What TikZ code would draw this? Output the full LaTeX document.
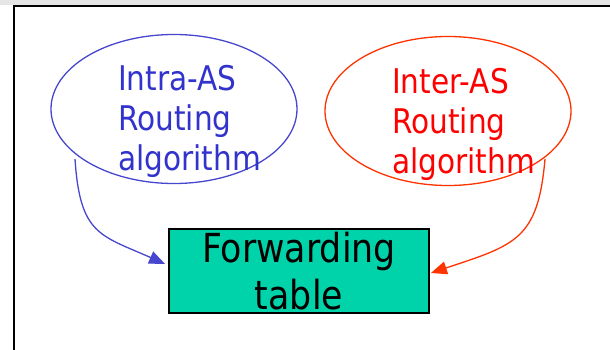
\documentclass[tikz,border=0pt]{standalone}
\usepackage{fontspec}
\setmainfont[FakeStretch=0.87]{DejaVu Sans}
\usetikzlibrary{shapes.geometric,arrows.meta}
\definecolor{intrablue}{HTML}{4646CF}
\definecolor{intratext}{HTML}{3232CC}
\definecolor{interred}{HTML}{FF3300}
\definecolor{intertext}{HTML}{FF0000}
\definecolor{tablefill}{HTML}{00D3AA}
\begin{document}
\begin{tikzpicture}[x=1pt,y=-1pt,
  algoell/.style={ellipse,draw,line width=1.3pt,minimum width=246pt,minimum height=149pt,inner sep=0pt},
  algotext/.style={anchor=north west,inner sep=0pt,align=left,font=\fontsize{34}{40}\selectfont},
  tablebox/.style={rectangle,draw=black,line width=1.8pt,fill=tablefill,minimum width=260pt,minimum height=84pt,inner sep=0pt,align=center,font=\fontsize{40}{47}\selectfont},
  feed/.style={line width=1.3pt,-{Triangle[length=16pt,width=13pt]}}]
\useasboundingbox (0,0) rectangle (610,350);
\fill[black!10] (0,0) rectangle (610,5);
\draw[line width=2pt] (13.5,352) -- (13.5,6.5) -- (612,6.5);
\node[algoell,draw=intrablue] (intra) at (174,109) {};
\node[algoell,draw=interred] (inter) at (448,111) {};
\node[algotext,text=intratext] (intratxt) at (118,65) {Intra-AS\\Routing\\algorithm};
\node[algotext,text=intertext] (intertxt) at (392,68) {Inter-AS\\Routing\\algorithm};
\node[tablebox] (fwd) at (299,271) {Forwarding\\table};
\coordinate (s1) at (75,159);
\coordinate (s2) at (545,159);
\draw[feed,draw=intrablue] (s1) .. controls (80,235) and (100,235) .. ([xshift=-3pt,yshift=7pt]fwd.west);
\draw[feed,draw=interred] (s2) .. controls (538,240) and (515,245) .. ([xshift=1pt,yshift=-2pt]fwd.east);
\end{tikzpicture}
\end{document}
